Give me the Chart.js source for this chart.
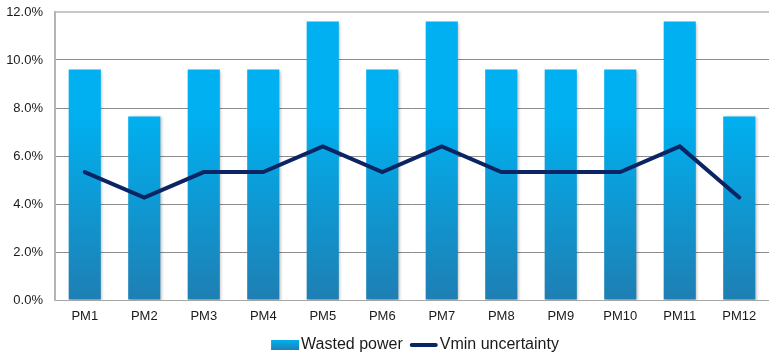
<!DOCTYPE html>
<html>
<head>
<meta charset="utf-8">
<script src="https://cdn.jsdelivr.net/npm/chart.js@4/dist/chart.umd.min.js"></script>
<style>
  html, body { margin: 0; padding: 0; background: #fff; }
  #wrap { width: 769px; height: 355px; }
</style>
</head>
<body>
<div id="wrap"><canvas id="c" width="769" height="355"></canvas></div>
<script>
// Categories and series (values in percent)
const categories = ['PM1','PM2','PM3','PM4','PM5','PM6','PM7','PM8','PM9','PM10','PM11','PM12'];
const wastedPower = [9.6, 7.65, 9.6, 9.6, 11.6, 9.6, 11.6, 9.6, 9.6, 9.6, 11.6, 7.65];
const vminUncertainty = [5.33, 4.27, 5.33, 5.33, 6.4, 5.33, 6.4, 5.33, 5.33, 5.33, 6.4, 4.27];
const seriesNames = ['Wasted power', 'Vmin uncertainty'];

const BAR_TOP = '#00b0f0';
const BAR_BOTTOM = '#1e7fb3';
const LINE_COLOR = '#0b2463';
const BAR_INDEX = 1;

function barGradient(ctx, top, bottom) {
  const g = ctx.createLinearGradient(0, top, 0, bottom);
  g.addColorStop(0, BAR_TOP);
  g.addColorStop(1, BAR_BOTTOM);
  return g;
}

// Per-bar vertical gradient plus a soft drop shadow
const barStyle = {
  id: 'barStyle',
  beforeDatasetDraw(chart, args) {
    if (args.index !== BAR_INDEX) return;
    const ctx = chart.ctx;
    args.meta.data.forEach(el => {
      const top = Math.min(el.y, el.base);
      const bottom = Math.max(el.y, el.base);
      el.options.backgroundColor = barGradient(ctx, top, bottom);
    });
    ctx.save();
    ctx.shadowColor = 'rgba(0,0,0,0.28)';
    ctx.shadowBlur = 3;
    ctx.shadowOffsetX = 1.5;
    ctx.shadowOffsetY = 1;
  },
  afterDatasetDraw(chart, args) {
    if (args.index !== BAR_INDEX) return;
    chart.ctx.restore();
  }
};

// Legend drawn below the axis labels
const bottomLegend = {
  id: 'bottomLegend',
  afterDraw(chart) {
    const ctx = chart.ctx;
    ctx.save();
    ctx.font = '16px "Liberation Sans", Arial, sans-serif';
    ctx.textBaseline = 'middle';
    const swatch = 28, gap = 2, itemGap = 7;
    const w0 = ctx.measureText(seriesNames[0]).width;
    const w1 = ctx.measureText(seriesNames[1]).width;
    const total = swatch + gap + w0 + itemGap + swatch + gap + w1;
    const area = chart.chartArea;
    let x = (area.left + area.right - total) / 2 + 3;
    const y = 345;
    // bar swatch
    ctx.fillStyle = barGradient(ctx, y - 5, y + 5);
    ctx.fillRect(x, y - 5, swatch, 10);
    x += swatch + gap;
    ctx.fillStyle = '#1a1a1a';
    ctx.fillText(seriesNames[0], x, y);
    x += w0 + itemGap;
    // line swatch
    ctx.strokeStyle = LINE_COLOR;
    ctx.lineWidth = 4;
    ctx.lineCap = 'round';
    ctx.beginPath();
    ctx.moveTo(x + 2, y);
    ctx.lineTo(x + swatch - 2, y);
    ctx.stroke();
    x += swatch + gap;
    ctx.fillText(seriesNames[1], x, y);
    ctx.restore();
  }
};

const tickFont = { family: '"Liberation Sans", Arial, sans-serif', size: 13 };

new Chart(document.getElementById('c'), {
  data: {
    labels: categories,
    datasets: [
      {
        type: 'line',
        label: seriesNames[1],
        data: vminUncertainty,
        borderColor: LINE_COLOR,
        borderWidth: 4,
        tension: 0,
        pointRadius: 0,
        borderCapStyle: 'round',
        borderJoinStyle: 'miter',
        order: 0
      },
      {
        type: 'bar',
        label: seriesNames[0],
        data: wastedPower,
        backgroundColor: BAR_TOP,
        borderWidth: 0,
        barPercentage: 0.54,
        categoryPercentage: 1,
        order: 1
      }
    ]
  },
  options: {
    responsive: false,
    animation: false,
    layout: { padding: { top: 12, left: 0, right: 0, bottom: 25 } },
    plugins: {
      legend: { display: false },
      tooltip: { enabled: false }
    },
    scales: {
      x: {
        grid: { display: false, drawTicks: false },
        border: { display: true, color: '#a6a6a6', width: 1 },
        ticks: { color: '#1a1a1a', font: tickFont, padding: 9 },
        afterFit(scale) { scale.height = 30; }
      },
      y: {
        min: 0,
        max: 12,
        ticks: {
          stepSize: 2,
          color: '#1a1a1a',
          font: tickFont,
          padding: 0,
          callback: v => v.toFixed(1) + '%'
        },
        grid: {
          drawTicks: true,
          tickLength: 12,
          tickColor: 'rgba(0,0,0,0)',
          color: ctx => ctx.tick && ctx.tick.value === 12 ? '#c8c8c8' : '#8c8c8c',
          lineWidth: ctx => ctx.tick && ctx.tick.value === 12 ? 2 : 1
        },
        border: { display: true, color: '#b4b4b4', width: 2 },
        afterFit(scale) { scale.width = 55; }
      }
    }
  },
  plugins: [barStyle, bottomLegend]
});
</script>
</body>
</html>
